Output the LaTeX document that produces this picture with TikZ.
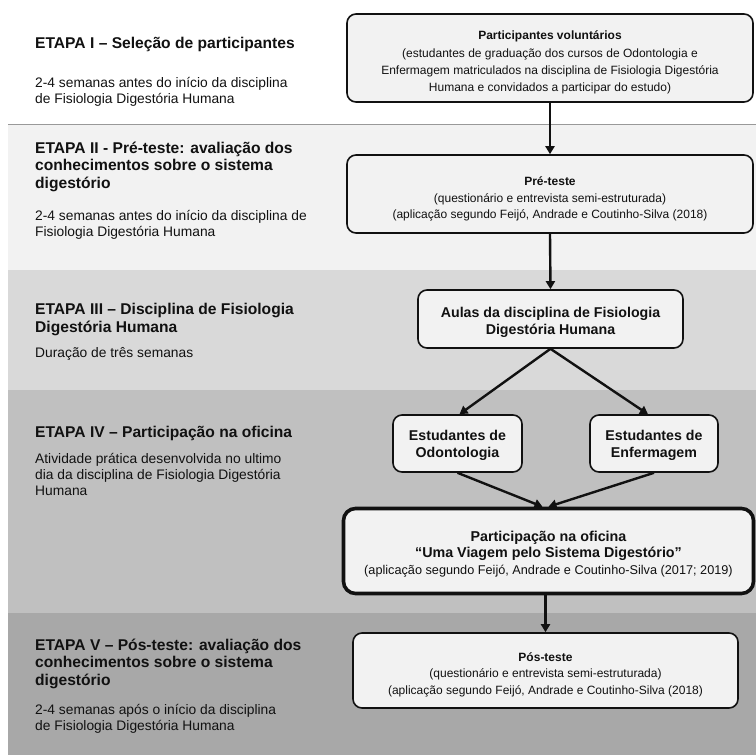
\documentclass[tikz,border=0pt]{standalone}
\usepackage{fontspec}
\setmainfont{Liberation Sans}
\usetikzlibrary{arrows.meta}
\definecolor{bandB}{HTML}{F2F2F2}
\definecolor{bandC}{HTML}{D9D9D9}
\definecolor{bandD}{HTML}{C0C0C0}
\definecolor{bandE}{HTML}{A8A8A8}
\definecolor{boxfill}{HTML}{F2F2F2}
\definecolor{ink}{HTML}{111111}
\begin{document}
\begin{tikzpicture}[x=1pt,y=-1pt,
  box/.style={draw=ink, line width=1.6pt, rounded corners=9pt, fill=boxfill, inner sep=0pt},
  bigbox/.style={box, line width=3.6pt, rounded corners=12pt},
  lbl/.style={align=center, inner sep=0pt, text=ink},
  fsmall/.style={font=\fontsize{12}{16.5}\selectfont},
  fbig/.style={font=\fontsize{14.2}{17}\selectfont\bfseries},
  flow/.style={draw=ink, line width=2.4pt, -{Triangle[length=8pt,width=9pt]}},
  ttl/.style={anchor=base west, align=left, inner sep=0pt, text=ink, font=\fontsize{15.6}{17.5}\selectfont\bfseries},
  dsc/.style={anchor=base west, align=left, inner sep=0pt, text=ink, font=\fontsize{13.8}{16}\selectfont}
]
\useasboundingbox (0,0) rectangle (756,755);
% bands
\fill[bandB] (8,124) rectangle (756,270);
\draw[color=gray!80, line width=1pt] (8,124) -- (756,124);
\fill[bandC] (8,270) rectangle (756,390);
\fill[bandD] (8,390) rectangle (756,613);
\fill[bandE] (8,613) rectangle (756,755);

% left column (anchor = baseline of last line)
\node[ttl] (t1) at (35,48) {ETAPA I -- Seleção de participantes};
\node[dsc] (d1) at (35,103) {2-4 semanas antes do início da disciplina\\de Fisiologia Digestória Humana};
\node[ttl] (t2) at (35,188) {ETAPA II - Pré-teste: avaliação dos\\conhecimentos sobre o sistema\\digestório};
\node[dsc] (d2) at (35,236) {2-4 semanas antes do início da disciplina de\\Fisiologia Digestória Humana};
\node[ttl] (t3) at (35,332) {ETAPA III -- Disciplina de Fisiologia\\Digestória Humana};
\node[dsc] (d3) at (35,357) {Duração de três semanas};
\node[ttl] (t4) at (35,437) {ETAPA IV -- Participação na oficina};
\node[dsc] (d4) at (35,495) {Atividade prática desenvolvida no ultimo\\dia da disciplina de Fisiologia Digestória\\Humana};
\node[ttl] (t5) at (35,685) {ETAPA V -- Pós-teste: avaliação dos\\conhecimentos sobre o sistema\\digestório};
\node[dsc] (d5) at (35,730) {2-4 semanas após o início da disciplina\\de Fisiologia Digestória Humana};

% flow boxes
\node[box, minimum width=406pt, minimum height=88pt,
  label={[lbl, name=p1t, yshift=-4.5pt, font=\fontsize{12}{17.3}\selectfont]center:{{\bfseries Participantes voluntários}\\(estudantes de graduação dos cursos de Odontologia e\\Enfermagem matriculados na disciplina de Fisiologia Digestória\\Humana e convidados a participar do estudo)}}] (p1) at (550,58) {};
\node[box, minimum width=406pt, minimum height=78pt,
  label={[lbl, name=p2t, yshift=-5pt, fsmall]center:{{\bfseries Pré-teste}\\(questionário e entrevista semi-estruturada)\\(aplicação segundo Feijó, Andrade e Coutinho-Silva (2018)}}] (p2) at (550,194) {};
\node[box, minimum width=265pt, minimum height=58pt,
  label={[lbl, name=p3t, yshift=-3pt, fbig]center:{Aulas da disciplina de Fisiologia\\Digestória Humana}}] (p3) at (550.5,319) {};
\node[box, minimum width=129pt, minimum height=57pt,
  label={[lbl, name=p4at, yshift=-2pt, fbig]center:{Estudantes de\\Odontologia}}] (p4a) at (457.5,443.5) {};
\node[box, minimum width=128pt, minimum height=57pt,
  label={[lbl, name=p4bt, yshift=-2pt, fbig]center:{Estudantes de\\Enfermagem}}] (p4b) at (654,443.5) {};
\node[bigbox, minimum width=410pt, minimum height=85pt,
  label={[lbl, name=p5t, yshift=-3pt, font=\fontsize{12.7}{16.5}\selectfont]center:{{\fontsize{14.3}{16.5}\selectfont\bfseries Participação na oficina}\\{\fontsize{14.3}{16.5}\selectfont\bfseries “Uma Viagem pelo Sistema Digestório”}\\(aplicação segundo Feijó, Andrade e Coutinho-Silva (2017; 2019)}}] (p5) at (548.5,551) {};
\node[box, minimum width=385pt, minimum height=75pt,
  label={[lbl, name=p6t, yshift=-4pt, fsmall]center:{{\bfseries Pós-teste}\\(questionário e entrevista semi-estruturada)\\(aplicação segundo Feijó, Andrade e Coutinho-Silva (2018)}}] (p6) at (545.5,670.5) {};

% connectors
\draw[flow] (p1.south) -- (p2.north);
\draw[flow] (p2.south) -- (p3.north);
\draw[flow] (p3.south) -- ([xshift=2pt]p4a.north);
\draw[flow] (p3.south) -- ([xshift=-6pt]p4b.north);
\draw[flow] (p4a.south) -- ([xshift=-6pt]p5.north);
\draw[flow] (p4b.south) -- ([xshift=0pt]p5.north);
\draw[flow] (p5.south -| p6.north) -- (p6.north);
\end{tikzpicture}
\end{document}
